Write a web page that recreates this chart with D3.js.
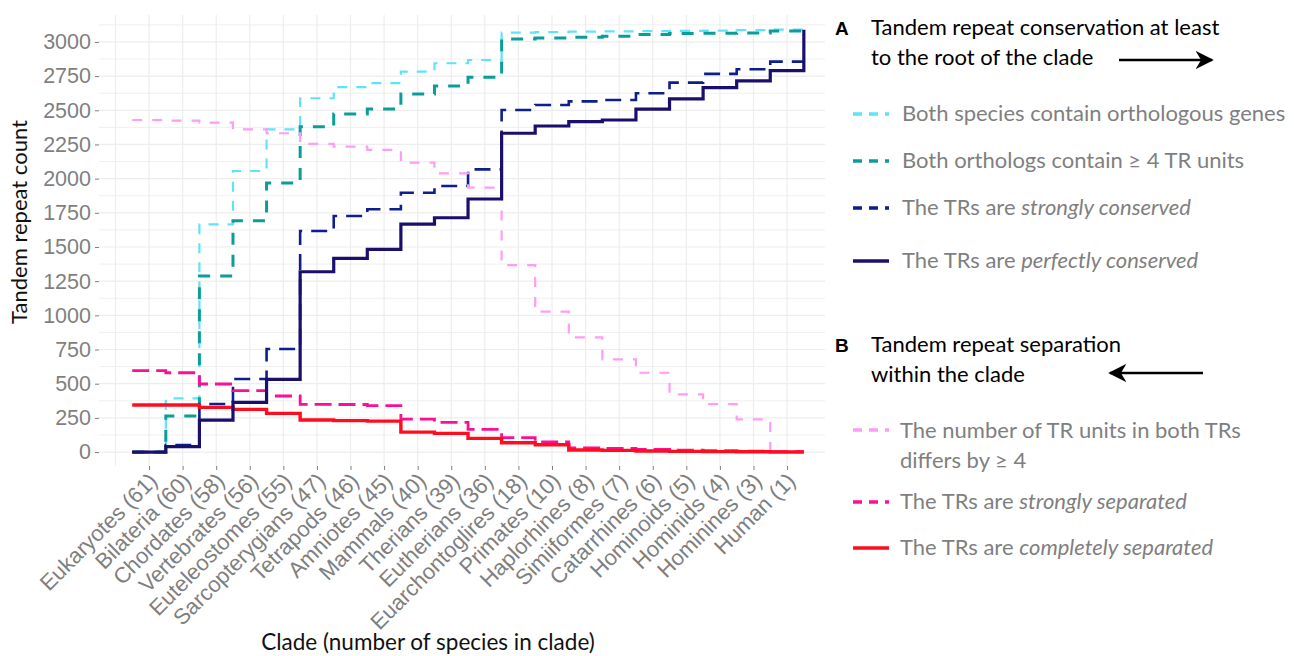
<!DOCTYPE html>
<html><head><meta charset="utf-8">
<script src="https://cdn.jsdelivr.net/npm/d3@7"></script>
<style>
body{margin:0;background:#fff;}
svg{display:block;}
</style></head><body>
<svg id="chart" width="1294" height="656"></svg>
<script>
// ---------------- DATA ----------------
const clades = ["Eukaryotes (61)", "Bilateria (60)", "Chordates (58)", "Vertebrates (56)", "Euteleostomes (55)",
  "Sarcopterygians (47)", "Tetrapods (46)", "Amniotes (45)", "Mammals (40)", "Therians (39)", "Eutherians (36)",
  "Euarchontoglires (18)", "Primates (10)", "Haplorhines (8)", "Simiiformes (7)", "Catarrhines (6)",
  "Hominoids (5)", "Hominids (4)", "Hominines (3)", "Human (1)"];

// A: conservation at least to the root of the clade
const orthologousGenes   = [0, 393, 1666, 2056, 2361, 2588, 2669, 2698, 2783, 2844, 2868, 3068, 3072, 3075, 3077, 3079, 3081, 3083, 3086, 3090];
const orthologsFourUnits = [0, 263, 1288, 1692, 1968, 2380, 2473, 2510, 2619, 2678, 2742, 3022, 3028, 3035, 3042, 3055, 3062, 3063, 3065, 3080];
const stronglyConserved  = [0, 51, 351, 534, 754, 1617, 1727, 1776, 1897, 1946, 2068, 2502, 2539, 2565, 2575, 2625, 2702, 2766, 2800, 2856];
const perfectlyConserved = [0, 39, 234, 364, 532, 1319, 1417, 1483, 1668, 1714, 1851, 2332, 2385, 2417, 2429, 2508, 2583, 2666, 2715, 2790];
const humanTotal = 3090;

// B: separation within the clade
const unitsDiffer          = [2429, 2424, 2410, 2361, 2332, 2254, 2234, 2210, 2117, 2039, 1934, 1368, 1027, 839, 678, 580, 422, 351, 239, 0];
const stronglySeparated    = [595, 580, 498, 449, 410, 349, 348, 340, 241, 217, 166, 105, 75, 31, 27, 20, 14, 10, 6, 3];
const completelySeparated  = [344, 344, 327, 312, 283, 234, 230, 226, 146, 137, 100, 68, 53, 15, 12, 8, 5, 3, 2, 0];

const yTicks = [0, 250, 500, 750, 1000, 1250, 1500, 1750, 2000, 2250, 2500, 2750, 3000];

const legendA = ["Both species contain orthologous genes", "Both orthologs contain \u2265 4 TR units",
  ["The TRs are ", "strongly conserved"], ["The TRs are ", "perfectly conserved"]];
const legendB = [["The number of TR units in both TRs", "differs by \u2265 4"],
  ["The TRs are ", "strongly separated"], ["The TRs are ", "completely separated"]];

// ---------------- LAYOUT ----------------
const panel = {left: 99, right: 825, top: 15, bottom: 466};
const svg = d3.select('#chart');
const x = d3.scaleLinear().domain([-0.49, 21.13]).range([panel.left, panel.right]);
const y = d3.scaleLinear().domain([-102, 3197]).range([panel.bottom, panel.top]);

const titleFont = "Lato, 'Open Sans', sans-serif";
const tickFont = "'Liberation Sans', Arial, sans-serif";
const grey = '#7f7f7f';

// gridlines
const grid = svg.append('g');
grid.selectAll('line.h').data(d3.range(0, 3126, 125)).join('line')
  .attr('x1', panel.left).attr('x2', panel.right)
  .attr('y1', d => y(d)).attr('y2', d => y(d))
  .attr('stroke', '#ededed').attr('stroke-width', d => d % 250 === 0 ? 1.2 : 0.9);
grid.selectAll('line.v').data(d3.range(0, 21)).join('line')
  .attr('x1', d => x(d)).attr('x2', d => x(d))
  .attr('y1', panel.top).attr('y2', panel.bottom)
  .attr('stroke', '#ededed').attr('stroke-width', 1.2);

// axes
const yAxis = svg.append('g').attr('transform', `translate(${panel.left},0)`)
  .call(d3.axisLeft(y).tickValues(yTicks).tickFormat(d3.format('d')).tickSize(4).tickPadding(4));
yAxis.select('.domain').remove();
yAxis.selectAll('line').attr('stroke', grey);
yAxis.selectAll('text').attr('font-family', tickFont).attr('font-size', 21.5).attr('fill', grey);

const xAxis = svg.append('g').attr('transform', `translate(0,${panel.bottom})`)
  .call(d3.axisBottom(x).tickValues(d3.range(1, clades.length + 1)).tickFormat(i => clades[i - 1]).tickSize(4));
xAxis.select('.domain').remove();
xAxis.selectAll('line').attr('stroke', grey);
xAxis.selectAll('text')
  .attr('font-family', tickFont).attr('font-size', 22).attr('fill', grey)
  .attr('text-anchor', 'end').attr('x', 0).attr('y', 0).attr('dy', '0.72em')
  .attr('transform', 'translate(-2,5) rotate(-45)');

// axis titles
svg.append('text').attr('x', 428).attr('y', 650).attr('text-anchor', 'middle')
  .attr('font-family', titleFont).attr('font-size', 22.5).attr('fill', '#111')
  .text('Clade (number of species in clade)');
svg.append('text').attr('transform', 'translate(27,222) rotate(-90)').attr('text-anchor', 'middle')
  .attr('font-family', titleFont).attr('font-size', 22).attr('fill', '#111')
  .text('Tandem repeat count');

// ---------------- LINES ----------------
const stepLine = d3.line().x(d => x(d[0])).y(d => y(d[1])).curve(d3.curveStepAfter);
function points(values, endValue) {
  const p = values.map((v, i) => [i + 0.5, v]);
  p.push([values.length + 0.5, endValue === undefined ? values[values.length - 1] : endValue]);
  return p;
}
const series = [
  {values: orthologousGenes, color: '#5fe3f8', width: 2.2, dash: '10,9'},
  {values: orthologsFourUnits, color: '#0b9e98', width: 3, dash: '12,10'},
  {values: stronglyConserved, color: '#0e1f8c', width: 2.6, dash: '16,9'},
  {values: unitsDiffer, color: '#ff9cf3', width: 2.2, dash: '10,10'},
  {values: stronglySeparated, color: '#fb0f96', width: 2.8, dash: '17,7'},
  {values: completelySeparated, color: '#ff0d1f', width: 3.4, dash: null},
  {values: perfectlyConserved, end: humanTotal, color: '#1b0f6e', width: 3.2, dash: null}
];
svg.append('g').selectAll('path').data(series).join('path')
  .attr('d', s => stepLine(points(s.values, s.end)))
  .attr('fill', 'none').attr('stroke', d => d.color).attr('stroke-width', d => d.width)
  .attr('stroke-dasharray', d => d.dash).attr('stroke-linejoin', 'miter');

// ---------------- LEGEND ----------------
const defs = svg.append('defs');
defs.append('marker').attr('id', 'arrow').attr('viewBox', '0 0 10 10').attr('refX', 9).attr('refY', 5)
  .attr('markerWidth', 7).attr('markerHeight', 7).attr('markerUnits', 'strokeWidth').attr('orient', 'auto')
  .append('path').attr('d', 'M0,0 L10,5 L0,10 L3,5 Z').attr('fill', '#000');

const lg = svg.append('g');
function header(letter, lines, yBase) {
  lg.append('text').attr('x', 835).attr('y', yBase).attr('font-family', "'Liberation Sans', Arial, sans-serif")
    .attr('font-weight', 'bold').attr('font-size', 19).attr('fill', '#000').text(letter);
  lines.forEach((t, i) => lg.append('text').attr('x', 871).attr('y', yBase + i * 30)
    .attr('font-family', titleFont).attr('font-size', 22).attr('fill', '#000').text(t));
}
header('A', ['Tandem repeat conservation at least', 'to the root of the clade'], 35);
lg.append('line').attr('x1', 1119).attr('x2', 1212).attr('y1', 60).attr('y2', 60)
  .attr('stroke', '#000').attr('stroke-width', 2.6).attr('marker-end', 'url(#arrow)');
header('B', ['Tandem repeat separation', 'within the clade'], 352);
lg.append('line').attr('x1', 1203).attr('x2', 1110).attr('y1', 373).attr('y2', 373)
  .attr('stroke', '#000').attr('stroke-width', 2.6).attr('marker-end', 'url(#arrow)');

function item(label, s, yKey, yText, xText) {
  lg.append('line').attr('x1', 853).attr('x2', 889).attr('y1', yKey).attr('y2', yKey)
    .attr('stroke', s.color).attr('stroke-width', 3.6).attr('stroke-dasharray', s.dash ? '9,7' : null);
  const t = lg.append('text').attr('x', xText).attr('y', yText)
    .attr('font-family', titleFont).attr('font-size', 22).attr('fill', grey);
  if (Array.isArray(label) && label[0].startsWith('The TRs')) {
    t.append('tspan').text(label[0]);
    t.append('tspan').attr('font-style', 'italic').text(label[1]);
  } else if (Array.isArray(label)) {
    label.forEach((l, i) => t.append('tspan').attr('x', xText).attr('y', yText + i * 30).text(l));
  } else {
    t.text(label);
  }
}
item(legendA[0], series[0], 114, 121, 902);
item(legendA[1], series[1], 161, 168, 902);
item(legendA[2], series[2], 208, 215, 902);
item(legendA[3], series[6], 261, 268, 902);
item(legendB[0], series[3], 430, 438, 900);
item(legendB[1], series[4], 502, 509, 900);
item(legendB[2], series[5], 548, 555, 900);
</script>
</body></html>
